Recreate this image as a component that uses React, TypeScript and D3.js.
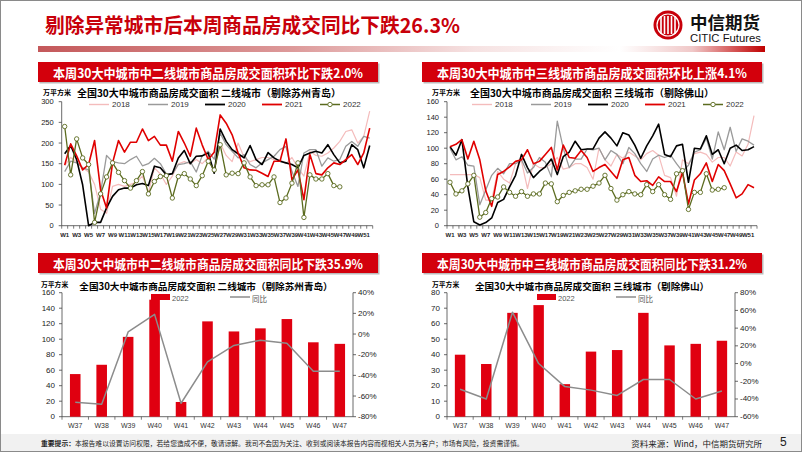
import React from "react";
import * as d3 from "d3";

const weeks = ["W1","W2","W3","W4","W5","W6","W7","W8","W9","W10","W11","W12","W13","W14","W15","W16","W17","W18","W19","W20","W21","W22","W23","W24","W25","W26","W27","W28","W29","W30","W31","W32","W33","W34","W35","W36","W37","W38","W39","W40","W41","W42","W43","W44","W45","W46","W47","W48","W49","W50","W51","W52"];
const years = ["2018", "2019", "2020", "2021", "2022"];

// Top-left: 二线城市 weekly (万平方米)
const tl2018 = [145,165,155,140,130,100,40,30,95,100,95,100,105,120,80,140,125,100,120,150,155,150,160,150,165,130,200,170,155,200,165,155,160,165,165,160,160,150,165,140,120,180,170,168,176,188,204,228,232,200,216,277];
const tl2019 = [131,156,152,140,135,30,80,170,155,152,150,160,168,145,150,163,150,125,125,148,150,155,130,170,180,161,224,196,180,164,172,148,140,152,160,168,184,192,131,95,176,184,184,144,164,156,160,192,204,192,216,212];
const tl2020 = [174,194,160,99,0,8,8,43,71,87,91,91,99,102,97,144,140,123,126,164,182,150,168,169,176,127,234,204,184,174,164,194,160,148,177,164,156,152,148,140,170,176,180,176,196,172,152,156,196,184,140,194];
const tl2021 = [147,198,169,135,148,206,87,43,152,206,178,202,202,234,206,216,195,195,156,228,200,168,236,195,160,178,268,248,220,176,140,135,134,127,119,156,156,210,111,135,63,172,126,123,140,152,148,160,172,148,176,236];
const tl2022 = [240,123,210,164,148,8,77,118,152,129,109,91,109,131,77,107,119,121,67,119,126,113,97,121,156,135,196,123,127,126,152,118,97,99,99,118,56,67,103,152,20,123,113,113,126,97,94];

// Top-right: 三线城市 weekly (万平方米)
const tr2018 = [66,66,66,66,66,62,33,33,70,60,55,80,83,48,80,75,75,80,88,73,75,80,80,75,60,100,85,77,92,87,95,90,85,93,97,91,65,62,38,85,80,93,95,92,82,88,88,77,95,90,105,142];
const tr2019 = [100,85,89,78,77,27,46,65,74,67,80,80,85,68,75,88,82,63,135,100,75,86,86,99,98,100,85,97,92,80,101,93,80,70,86,91,88,91,80,70,78,95,98,113,86,121,98,127,96,112,109,104];
const tr2020 = [102,91,111,50,5,1,4,10,30,34,50,65,92,75,62,70,76,86,66,89,95,109,98,99,99,113,121,113,103,120,117,104,87,103,116,131,92,89,103,105,56,100,99,116,92,98,80,100,104,97,98,102];
const tr2021 = [102,105,111,86,109,85,45,25,66,70,76,83,85,98,80,83,92,101,72,104,88,87,97,88,70,75,79,70,61,85,88,65,57,58,52,63,57,57,44,69,28,59,67,81,57,79,71,54,36,41,53,49];
const tr2022 = [56,41,45,54,65,11,17,35,37,50,43,38,44,38,41,41,55,54,31,39,43,45,47,47,51,55,65,48,33,40,44,41,40,53,44,53,40,34,67,71,21,43,43,67,46,47,49];

// Bottom charts
const barWeeks = ["W37","W38","W39","W40","W41","W42","W43","W44","W45","W46","W47"];
const bl2022 = [55,67,103,151,19,123,110,114,126,96,94];
const blYoY = [-66,-68,2,19,-67,-27,-11,-6,-9,-36,-36];
const br2022 = [40,34,67,72,21,42,43,67,46,47,49];
const brYoY = [-29,-40,58,0,-26,-30,-36,-18,-18,-40,-31];

const FONT_CN = "'Noto Sans CJK SC', 'Noto Sans', sans-serif";
const FONT_EN = "'Liberation Sans', Arial, sans-serif";
const COLORS = ["#f4bcbc", "#9a9a9a", "#000000", "#e00000", "#5b6b1f"];
const WIDTHS = [1.2, 1.3, 1.6, 1.6, 1.3];
const BAR_RED = "#e00010";
const HEAD_RED = "#d3000c";

function LineChart(props: any) {
  const { left, right, top, bottom, yMax, yStep, series, title, titleX, unitX } = props;
  const x = d3.scaleBand<string>().domain(weeks).range([left, right]);
  const y = d3.scaleLinear().domain([0, yMax]).range([bottom, top]);
  const ticks = d3.range(0, yMax + 1, yStep);
  const cx = (i: number) => (x(weeks[i]) as number) + x.bandwidth() / 2;
  const line = d3.line<number>().x((_, i) => cx(i)).y((d) => y(d));
  const legendOffsets = [-120, -61, -4, 53, 111];
  return (
    <g>
      <line x1={left} x2={left} y1={top} y2={bottom} stroke="#444" strokeWidth={0.8} />
      {ticks.map((t) => (
        <g key={t}>
          <line x1={left - 3} x2={left} y1={y(t)} y2={y(t)} stroke="#444" strokeWidth={0.8} />
          <text x={left - 8} y={y(t)} textAnchor="end" dominantBaseline="central" fontSize={7.5} fontFamily={FONT_EN} fill="#222">{t}</text>
        </g>
      ))}
      <line x1={left} x2={right} y1={bottom} y2={bottom} stroke="#444" strokeWidth={0.8} />
      {weeks.map((w) => (
        <line key={w} x1={x(w)} x2={x(w)} y1={bottom} y2={bottom + 3} stroke="#444" strokeWidth={0.7} />
      ))}
      <line x1={right} x2={right} y1={bottom} y2={bottom + 3} stroke="#444" strokeWidth={0.7} />
      {weeks.map((w, i) =>
        i % 2 === 0 ? (
          <text key={w} x={cx(i)} y={bottom + 9} textAnchor="middle" dominantBaseline="central" fontSize={6} fontWeight="bold" fontFamily={FONT_EN} fill="#222">{w}</text>
        ) : null
      )}
      {series.map((s: number[], k: number) => (
        <path key={k} d={line(s) as string} fill="none" stroke={COLORS[k]} strokeWidth={WIDTHS[k]} strokeLinejoin="round" />
      ))}
      {series[4].map((v: number, i: number) => (
        <circle key={i} cx={cx(i)} cy={y(v)} r={2.2} fill="#fff" stroke={COLORS[4]} strokeWidth={0.9} />
      ))}
      <text x={titleX} y={92} textAnchor="middle" dominantBaseline="central" fontSize={10} fontWeight="bold" fontFamily={FONT_CN} fill="#000">{title}</text>
      <text x={unitX} y={92} dominantBaseline="central" fontSize={7} fontWeight="bold" fontFamily={FONT_CN} fill="#000">万平方米</text>
      {years.map((yr, k) => {
        const sx = titleX + legendOffsets[k];
        return (
          <g key={yr}>
            <line x1={sx} x2={sx + 20} y1={104.5} y2={104.5} stroke={COLORS[k]} strokeWidth={WIDTHS[k] + 0.2} />
            {k === 4 ? <circle cx={sx + 10} cy={104.5} r={2.2} fill="#fff" stroke={COLORS[4]} strokeWidth={0.9} /> : null}
            <text x={sx + 23} y={104.5} dominantBaseline="central" fontSize={8} fontFamily={FONT_EN} fill="#333">{yr}</text>
          </g>
        );
      })}
    </g>
  );
}

function BarChart(props: any) {
  const { left, right, top, bottom, lMax, lStep, rMin, rMax, rStep, bars, yoy, title, titleX, unitX } = props;
  const x = d3.scaleBand<string>().domain(barWeeks).range([left, right]).paddingInner(0.6).paddingOuter(0.3);
  const xb = d3.scaleBand<string>().domain(barWeeks).range([left, right]);
  const y = d3.scaleLinear().domain([0, lMax]).range([bottom, top]);
  const yr = d3.scaleLinear().domain([rMin, rMax]).range([bottom, top]);
  const lt = d3.range(0, lMax + 0.001, lStep);
  const rt = d3.range(rMin, rMax + 0.001, rStep);
  const cx = (i: number) => (xb(barWeeks[i]) as number) + xb.bandwidth() / 2;
  const line = d3.line<number>().x((_, i) => cx(i)).y((d) => yr(d));
  return (
    <g>
      <line x1={left} x2={left} y1={top} y2={bottom} stroke="#444" strokeWidth={0.8} />
      {lt.map((t) => (
        <g key={t}>
          <line x1={left - 3} x2={left} y1={y(t)} y2={y(t)} stroke="#444" strokeWidth={0.8} />
          <text x={left - 7} y={y(t)} textAnchor="end" dominantBaseline="central" fontSize={8} fontFamily={FONT_EN} fill="#222">{t}</text>
        </g>
      ))}
      <line x1={right} x2={right} y1={top} y2={bottom} stroke="#444" strokeWidth={0.8} />
      {rt.map((t) => (
        <g key={t}>
          <line x1={right} x2={right + 3} y1={yr(t)} y2={yr(t)} stroke="#444" strokeWidth={0.8} />
          <text x={right + 5} y={yr(t)} dominantBaseline="central" fontSize={8} fontFamily={FONT_EN} fill="#222">{t + "%"}</text>
        </g>
      ))}
      <line x1={left} x2={right} y1={bottom} y2={bottom} stroke="#444" strokeWidth={0.8} />
      {barWeeks.map((w) => (
        <line key={w} x1={xb(w)} x2={xb(w)} y1={bottom} y2={bottom + 3} stroke="#444" strokeWidth={0.7} />
      ))}
      {barWeeks.map((w, i) => (
        <text key={w} x={cx(i)} y={bottom + 9} textAnchor="middle" dominantBaseline="central" fontSize={7} fontFamily={FONT_EN} fill="#333">{w}</text>
      ))}
      {bars.map((v: number, i: number) => (
        <rect key={i} x={cx(i) - x.bandwidth() / 2} y={y(v)} width={x.bandwidth()} height={bottom - y(v)} fill={BAR_RED} />
      ))}
      <path d={line(yoy) as string} fill="none" stroke="#8c8c8c" strokeWidth={1.5} strokeLinejoin="round" />
      <text x={titleX} y={286} textAnchor="middle" dominantBaseline="central" fontSize={9.6} fontWeight="bold" fontFamily={FONT_CN} fill="#000">{title}</text>
      <text x={unitX} y={283.5} dominantBaseline="central" fontSize={6.8} fontWeight="bold" fontFamily={FONT_CN} fill="#000">万平方米</text>
      <rect x={titleX - 55} y={294} width={19} height={6} fill={BAR_RED} />
      <text x={titleX - 34} y={298} dominantBaseline="central" fontSize={7.5} fontFamily={FONT_EN} fill="#555">2022</text>
      <line x1={titleX + 24} x2={titleX + 44} y1={297} y2={297} stroke="#8c8c8c" strokeWidth={1.5} />
      <text x={titleX + 46} y={298} dominantBaseline="central" fontSize={7.5} fontFamily={FONT_CN} fill="#555">同比</text>
    </g>
  );
}

function HeaderBox({ x, y, w, h, text }: any) {
  return (
    <g>
      <rect x={x + 1.5} y={y + 1.5} width={w} height={h} fill="#bbbbbb" />
      <rect x={x} y={y} width={w} height={h} fill={HEAD_RED} />
      <text x={x + w / 2} y={y + h / 2 + 0.5} textAnchor="middle" dominantBaseline="central" fontSize={13} fontWeight="bold" fontFamily={FONT_CN} fill="#fff" textLength={w - 30} lengthAdjust="spacingAndGlyphs">{text}</text>
    </g>
  );
}

export default function App() {
  return (
    <div style={{ position: "absolute", left: 0, top: 0 }}>
      <svg width={802} height={452} xmlns="http://www.w3.org/2000/svg" style={{ display: "block" }}>
        <defs>
          <linearGradient id="band" x1="0" x2="1" y1="0" y2="0">
            <stop offset="0" stopColor="#c4585a" />
            <stop offset="0.35" stopColor="#dd9a9a" />
            <stop offset="0.6" stopColor="#f6e2e2" />
            <stop offset="0.8" stopColor="#ffffff" />
            <stop offset="0.9" stopColor="#f0c8c8" />
            <stop offset="1" stopColor="#c00000" />
          </linearGradient>
        </defs>
        <rect x={0} y={0} width={802} height={452} fill="#fff" />
        <rect x={0.5} y={0.5} width={801} height={451} fill="none" stroke="#8a8a8a" strokeWidth={1} />
        {/* Title */}
        <text x={45} y={24} dominantBaseline="central" fontSize={20} fontWeight="bold" fontFamily={FONT_CN} fill="#c8000a" textLength={415} lengthAdjust="spacingAndGlyphs">剔除异常城市后本周商品房成交同比下跌26.3%</text>
        {/* Logo */}
        <g>
          <circle cx={668} cy={25} r={14.5} fill="#c8000a" />
          <circle cx={668} cy={25} r={11} fill="none" stroke="#fff" strokeWidth={1.2} />
          {[-7, -3.5, 0, 3.5, 7].map((d, i) => (
            <rect key={i} x={668 + d - 0.8} y={16} width={1.6} height={18} fill="#fff" />
          ))}
          <text x={690} y={21} dominantBaseline="central" fontSize={17} fontWeight="bold" fontFamily={FONT_CN} fill="#111" textLength={70} lengthAdjust="spacingAndGlyphs">中信期货</text>
          <text x={690} y={38} dominantBaseline="central" fontSize={10} fontFamily={FONT_EN} fill="#111" textLength={71} lengthAdjust="spacingAndGlyphs">CITIC Futures</text>
        </g>
        <rect x={38} y={46} width={727} height={6} fill="url(#band)" />

        <HeaderBox x={38} y={62} w={340} h={20} text="本周30大中城市中二线城市商品房成交面积环比下跌2.0%" />
        <HeaderBox x={422} y={62} w={340} h={20} text="本周30大中城市中三线城市商品房成交面积环比上涨4.1%" />
        <HeaderBox x={38} y={253} w={340} h={20} text="本周30大中城市中二线城市商品房成交面积同比下跌35.9%" />
        <HeaderBox x={422} y={253} w={340} h={20} text="本周30大中城市中三线城市商品房成交面积同比下跌31.2%" />

        <LineChart left={61.7} right={372.7} top={101.7} bottom={225.7} yMax={300} yStep={50}
          series={[tl2018, tl2019, tl2020, tl2021, tl2022]}
          title="全国30大中城市商品房成交面积  二线城市（剔除苏州青岛）" titleX={209} unitX={43} />
        <LineChart left={447} right={757} top={101.7} bottom={225.7} yMax={160} yStep={20}
          series={[tr2018, tr2019, tr2020, tr2021, tr2022]}
          title="全国30大中城市商品房成交面积  三线城市（剔除佛山）" titleX={592} unitX={432} />

        <BarChart left={62} right={353} top={292.7} bottom={416.7} lMax={160} lStep={20} rMin={-80} rMax={40} rStep={20}
          bars={bl2022} yoy={blYoY} title="全国30大中城市商品房成交面积  二线城市（剔除苏州青岛）" titleX={206} unitX={41} />
        <BarChart left={447} right={735} top={292.7} bottom={416.7} lMax={80} lStep={10} rMin={-60} rMax={80} rStep={20}
          bars={br2022} yoy={brYoY} title="全国30大中城市商品房成交面积  三线城市（剔除佛山）" titleX={592} unitX={432} />

        {/* Footer */}
        <rect x={1} y={434} width={800} height={17} fill="#f1f1f1" />
        <text x={41} y={443} dominantBaseline="central" fontSize={6.8} fontFamily={FONT_CN} fill="#222">
          <tspan fontWeight="bold">重要提示：</tspan>
          <tspan>本报告难以设置访问权限，若给您造成不便，敬请谅解。我司不会因为关注、收到或阅读本报告内容而视相关人员为客户；市场有风险，投资需谨慎。</tspan>
        </text>
        <text x={762} y={443} textAnchor="end" dominantBaseline="central" fontSize={8.5} fontFamily={FONT_CN} fill="#222">资料来源：Wind，中信期货研究所</text>
        <text x={780} y={442} dominantBaseline="central" fontSize={12} fontFamily={FONT_EN} fill="#222">5</text>
      </svg>
    </div>
  );
}
